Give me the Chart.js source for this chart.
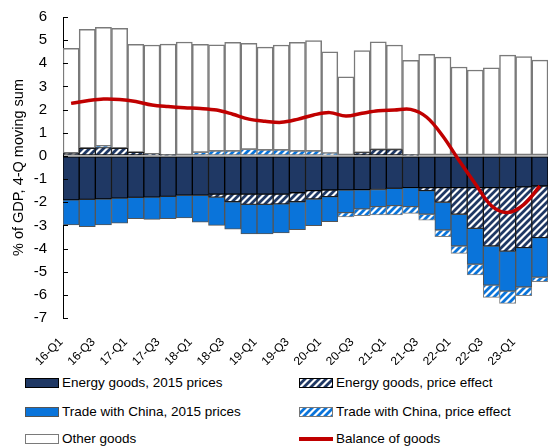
<!DOCTYPE html>
<html>
<head>
<meta charset="utf-8">
<script src="https://cdn.jsdelivr.net/npm/chart.js@4.4.1/dist/chart.umd.min.js"></script>
<style>
  html, body { margin: 0; padding: 0; background: #fff; }
  #wrap { position: relative; width: 548px; height: 448px; overflow: hidden; }
  #chartBox { position: absolute; left: 0; top: 0; width: 548px; height: 365px; }
  .leg { position: absolute; font-family: "Liberation Sans", Arial, sans-serif; font-size: 13.5px; color: #000; white-space: nowrap; line-height: 16px; }
  .leg canvas { position: absolute; left: 0; top: 3px; }
  .leg span { position: absolute; top: 0; }
</style>
</head>
<body>
<div id="wrap">
  <div id="chartBox"><canvas id="c"></canvas></div>
  <div id="legend"></div>
</div>
<script>
// ---- data ----
const labels = ["16-Q1","16-Q2","16-Q3","16-Q4","17-Q1","17-Q2","17-Q3","17-Q4",
  "18-Q1","18-Q2","18-Q3","18-Q4","19-Q1","19-Q2","19-Q3","19-Q4",
  "20-Q1","20-Q2","20-Q3","20-Q4","21-Q1","21-Q2","21-Q3","21-Q4",
  "22-Q1","22-Q2","22-Q3","22-Q4","23-Q1","23-Q2"];

const energy2015 = [-1.90,-1.88,-1.86,-1.82,-1.79,-1.78,-1.75,-1.70,
  -1.70,-1.65,-1.65,-1.65,-1.65,-1.65,-1.59,-1.50,
  -1.47,-1.47,-1.46,-1.45,-1.40,-1.37,-1.37,-1.37,
  -1.37,-1.37,-1.37,-1.37,-1.34,-1.30];

const energyPrice = [0.12,0.33,0.36,0.33,0.15,0.08,0.03,0.00,
  0.00,-0.13,-0.33,-0.44,-0.44,-0.42,-0.39,-0.36,
  -0.29,0.00,0.14,0.27,0.27,0.03,-0.13,-0.63,
  -1.15,-1.76,-2.52,-2.74,-2.62,-2.23];

const china2015 = [-1.08,-1.18,-1.12,-1.08,-0.92,-0.96,-0.96,-0.98,
  -1.16,-1.22,-1.18,-1.28,-1.28,-1.26,-1.21,-1.15,
  -1.08,-0.98,-0.83,-0.74,-0.75,-0.82,-1.02,-1.20,
  -1.37,-1.55,-1.69,-1.73,-1.70,-1.71];

const chinaPrice = [0.00,0.00,0.06,0.00,0.00,0.00,0.00,0.00,
  0.15,0.21,0.21,0.28,0.25,0.25,0.21,0.21,
  0.11,-0.18,-0.29,-0.36,-0.40,-0.29,-0.25,-0.29,
  -0.32,-0.46,-0.53,-0.53,-0.38,-0.19];

const otherGoods = [4.53,5.14,5.13,5.18,4.67,4.71,4.80,4.92,
  4.67,4.59,4.70,4.58,4.45,4.54,4.70,4.77,
  4.39,3.42,4.41,4.66,4.52,4.10,4.39,4.27,
  3.84,3.71,3.81,4.35,4.29,4.14];

const balance = [2.27,2.38,2.46,2.44,2.35,2.20,2.13,2.08,
  2.05,1.98,1.80,1.59,1.50,1.45,1.58,1.77,
  1.87,1.72,1.84,1.95,1.98,2.01,1.67,0.85,
  -0.20,-1.20,-2.15,-2.44,-2.10,-1.30];

const yTicks = { min: -7, max: 6, step: 1 };
const yTitle = "% of GDP, 4-Q moving sum";

// ---- styles ----
const NAVY = "#1F3864";
const BLUE = "#0A74DA";
const RED = "#C00000";

function makePattern(color) {
  const s = 7;
  const cv = document.createElement("canvas");
  cv.width = s; cv.height = s;
  const g = cv.getContext("2d");
  g.fillStyle = "#fff"; g.fillRect(0, 0, s, s);
  g.strokeStyle = color; g.lineWidth = 2.8;
  g.beginPath();
  g.moveTo(-s, s); g.lineTo(s, -s);
  g.moveTo(0, s); g.lineTo(s, 0);
  g.moveTo(0, 2*s); g.lineTo(2*s, 0);
  g.stroke();
  return document.createElement("canvas").getContext("2d").createPattern(cv, "repeat");
}
const navyPat = makePattern(NAVY);
const bluePat = makePattern(BLUE);

const barCommon = { barPercentage: 1.0, categoryPercentage: 1.0, borderSkipped: false, order: 1 };

const innerTicks = {
  id: "innerTicks",
  afterDatasetsDraw(chart) {
    const y = chart.scales.y, ctx = chart.ctx;
    ctx.save();
    ctx.strokeStyle = "#000"; ctx.lineWidth = 1;
    y.ticks.forEach(t => {
      const py = Math.round(y.getPixelForValue(t.value)) + 0.5;
      ctx.beginPath(); ctx.moveTo(y.right, py); ctx.lineTo(y.right + 5, py); ctx.stroke();
    });
    ctx.restore();
  }
};

new Chart(document.getElementById("c"), {
  type: "bar",
  data: {
    labels,
    datasets: [
      Object.assign({ label: "Energy goods, 2015 prices", data: energy2015, backgroundColor: NAVY, borderColor: "#000", borderWidth: 1 }, barCommon),
      Object.assign({ label: "Energy goods, price effect", data: energyPrice, backgroundColor: navyPat, borderColor: "#1a1a1a", borderWidth: 1 }, barCommon),
      Object.assign({ label: "Trade with China, 2015 prices", data: china2015, backgroundColor: BLUE, borderColor: "#555", borderWidth: 1 }, barCommon),
      Object.assign({ label: "Trade with China, price effect", data: chinaPrice, backgroundColor: bluePat, borderColor: "#808080", borderWidth: 1 }, barCommon),
      Object.assign({ label: "Other goods", data: otherGoods, backgroundColor: "#fff", borderColor: "#7a7a7a", borderWidth: 1.5 }, barCommon),
      { type: "line", label: "Balance of goods", data: balance, borderColor: RED, borderWidth: 3.5,
        pointRadius: 0, tension: 0.35, fill: false, order: 0, stack: "line" }
    ]
  },
  options: {
    responsive: true, maintainAspectRatio: false, animation: false,
    layout: { padding: { top: 17, right: 0, left: 0, bottom: 0 } },
    plugins: { legend: { display: false }, tooltip: { enabled: false } },
    scales: {
      x: {
        stacked: true, offset: true,
        grid: { display: false, drawTicks: false },
        border: { display: false },
        ticks: {
          autoSkip: false, maxRotation: 45, minRotation: 45, padding: 17, labelOffset: -10,
          color: "#000", font: { family: "Liberation Sans", size: 12 },
          callback: (v, i) => (i % 2 === 0 ? labels[i] : "")
        },
        afterFit: s => { s.height = 47; s.paddingLeft = 0; s.paddingRight = 0; s.paddingTop = 0; s.paddingBottom = 0; }
      },
      y: {
        stacked: true, min: yTicks.min, max: yTicks.max, z: 1,
        ticks: { stepSize: yTicks.step, color: "#000", padding: 16, font: { family: "Liberation Sans", size: 15 } },
        grid: {
          drawTicks: false, drawOnChartArea: true, lineWidth: 2,
          color: c => (c.tick && c.tick.value === 0 ? "#BFBFBF" : "rgba(0,0,0,0)")
        },
        border: { display: true, color: "#000", width: 1 },
        title: { display: true, text: yTitle, color: "#000", padding: { top: 10, bottom: 0 },
          font: { family: "Liberation Sans", size: 14.5 } },
        afterFit: s => { s.width = 63; s.paddingTop = 0; s.paddingBottom = 0; }
      }
    }
  },
  plugins: [innerTicks]
});

// ---- legend (HTML, real text) ----
const legendItems = [
  { text: "Energy goods, 2015 prices", kind: "fill", fill: NAVY, stroke: "#000", x: 25, y: 375 },
  { text: "Energy goods, price effect", kind: "pat", fill: navyPat, stroke: "#000", x: 299, y: 375 },
  { text: "Trade with China, 2015 prices", kind: "fill", fill: BLUE, stroke: "#555", x: 25, y: 404 },
  { text: "Trade with China, price effect", kind: "pat", fill: bluePat, stroke: "#777", x: 299, y: 404 },
  { text: "Other goods", kind: "fill", fill: "#fff", stroke: "#7a7a7a", x: 25, y: 431 },
  { text: "Balance of goods", kind: "line", fill: RED, stroke: RED, x: 299, y: 431 }
];
const legendEl = document.getElementById("legend");
legendItems.forEach(it => {
  const d = document.createElement("div");
  d.className = "leg";
  d.style.left = it.x + "px"; d.style.top = it.y + "px";
  const cv = document.createElement("canvas");
  cv.width = 34; cv.height = 10;
  const g = cv.getContext("2d");
  if (it.kind === "line") {
    g.fillStyle = it.fill; g.fillRect(0, 3, 34, 4);
  } else {
    g.fillStyle = it.fill; g.fillRect(0, 0, 34, 10);
    g.strokeStyle = it.stroke; g.lineWidth = 1; g.strokeRect(0.5, 0.5, 33, 9);
  }
  d.appendChild(cv);
  const sp = document.createElement("span");
  sp.style.left = "37px";
  sp.textContent = it.text;
  d.appendChild(sp);
  legendEl.appendChild(d);
});
</script>
</body>
</html>
